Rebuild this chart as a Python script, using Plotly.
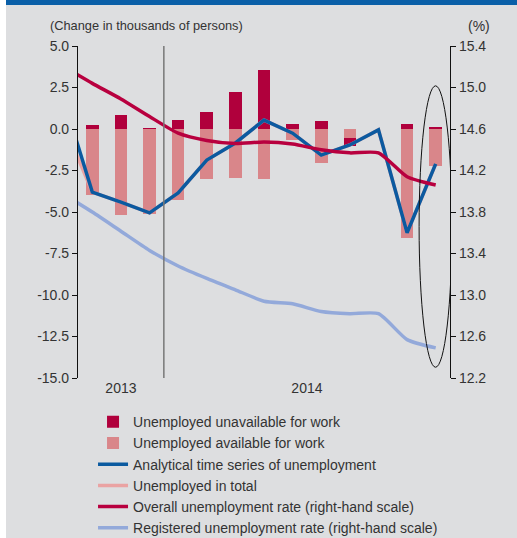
import numpy as np
import plotly.graph_objects as go

# ---------------- data ----------------
months = ["2013-09", "2013-10", "2013-11", "2013-12",
          "2014-01", "2014-02", "2014-03", "2014-04", "2014-05", "2014-06",
          "2014-07", "2014-08", "2014-09", "2014-10"]
unavailable = [None, 0.25, 0.85, 0.05, 0.55, 1.0, 2.2, 3.55, 0.3, 0.48, -0.46, 0.0, 0.3, 0.1]
available = [None, -4.0, -5.2, -5.1, -4.25, -3.0, -2.95, -3.0, -0.66, -2.03, -0.56, 0.0, -6.55, -2.25]
analytical = [1.8, -3.8, -4.4, -5.05, -3.85, -1.87, -0.84, 0.54, -0.25, -1.57, -0.96, -0.05, -6.25, -2.1]
total = [0.3, -3.8, -4.4, -5.05, -3.85, -1.87, -0.84, 0.54, -0.25, -1.57, -0.96, -0.05, -6.25, -2.1]
overall_rate = [15.2, 15.04, 14.89, 14.72, 14.56, 14.49, 14.46, 14.475, 14.455, 14.40, 14.37, 14.37, 14.14, 14.06]
registered_rate = [13.97, 13.80, 13.615, 13.43, 13.28, 13.16, 13.05, 12.94, 12.915, 12.84, 12.82, 12.82, 12.57, 12.49]

left_ticks = [5.0, 2.5, 0.0, -2.5, -5.0, -7.5, -10.0, -12.5, -15.0]
right_ticks = [15.4, 15.0, 14.6, 14.2, 13.8, 13.4, 13.0, 12.6, 12.2]

# ---------------- styling ----------------
FONT = "Liberation Sans, Arial, sans-serif"
TXT = "#333333"
BG = "#dddee0"
C_UNAV = "#b0003c"
C_AV = "#d9868a"
C_ANA = "#0b5aa0"
C_TOT = "#eaa3a3"
C_OVR = "#b8003f"
C_REG = "#93a9da"

x = np.arange(len(months))
first_shown = 1  # Sep 2013 only anchors the clipped line segments
xr = [first_shown - 0.5, len(months) - 0.5]

fig = go.Figure()
fig.add_bar(x=x, y=available, name="Unemployed available for work",
            marker=dict(color=C_AV, line=dict(width=0)), width=0.44, legendrank=2)
fig.add_bar(x=x, y=unavailable, name="Unemployed unavailable for work",
            marker=dict(color=C_UNAV, line=dict(width=0)), width=0.44, legendrank=1)
fig.add_scatter(x=x, y=total, mode="lines", name="Unemployed in total",
                line=dict(color=C_TOT, width=3.5), legendrank=4)
fig.add_scatter(x=x, y=analytical, mode="lines", name="Analytical time series of unemployment",
                line=dict(color=C_ANA, width=3.5), legendrank=3)
fig.add_scatter(x=x, y=registered_rate, mode="lines", yaxis="y2",
                name="Registered unemployment rate (right-hand scale)",
                line=dict(color=C_REG, width=3.5, shape="spline", smoothing=0.6), legendrank=6)
fig.add_scatter(x=x, y=overall_rate, mode="lines", yaxis="y2",
                name="Overall unemployment rate (right-hand scale)",
                line=dict(color=C_OVR, width=3.5, shape="spline", smoothing=0.6), legendrank=5)

# year label positions: centre of each year's shown months
years = sorted(set(m[:4] for m in months[first_shown:]))
year_pos = [float(np.mean([i for i, m in enumerate(months) if m.startswith(y) and i >= first_shown])) for y in years]
boundary = [i - 0.5 for i in range(first_shown + 1, len(months)) if months[i][:4] != months[i - 1][:4]]

fig.update_layout(
    width=517, height=538,
    margin=dict(l=78, r=67, t=46, b=160, autoexpand=False),
    paper_bgcolor=BG, plot_bgcolor=BG,
    font=dict(family=FONT, size=14, color=TXT),
    barmode="relative",
    bargap=0,
    showlegend=True,
    legend=dict(x=0.0404, y=-0.085, xanchor="left", yanchor="top",
                bgcolor="rgba(0,0,0,0)", font=dict(size=14, color=TXT),
                tracegroupgap=0, itemwidth=30, traceorder="normal"),
    xaxis=dict(range=xr, tickvals=year_pos, ticktext=years, ticks="",
               showline=False, showgrid=False, zeroline=False,
               tickfont=dict(size=14, color=TXT)),
    xaxis2=dict(overlaying="x", anchor="free", position=0.75, range=xr,
                tickvals=[i - 0.5 for i in range(first_shown + 1, len(months))],
                ticks="outside", ticklen=5, tickcolor="#555555", tickwidth=1.5,
                showticklabels=False, showline=True, linecolor="#555555", linewidth=1.5,
                showgrid=False, zeroline=False),
    yaxis=dict(range=[-15, 5], tickvals=left_ticks, ticktext=[f"{v:.1f}" for v in left_ticks],
               ticks="outside", ticklen=5, tickcolor="#111111", showline=True, linecolor="#111111",
               linewidth=1.2, showgrid=False, zeroline=False, tickfont=dict(size=14, color=TXT)),
    yaxis2=dict(range=[12.2, 15.4], tickvals=right_ticks, ticktext=[f"{v:.1f}" for v in right_ticks],
                overlaying="y", side="right", anchor="x",
                ticks="outside", ticklen=5, tickcolor="#111111", showline=True, linecolor="#111111",
                linewidth=1.2, showgrid=False, zeroline=False, tickfont=dict(size=14, color=TXT)),
)

shapes = []
for b in boundary:
    shapes.append(dict(type="line", xref="x", yref="paper", x0=b, x1=b, y0=0, y1=1,
                       line=dict(color="#777777", width=1.5), layer="above"))
# highlight ellipse around the latest month
shapes.append(dict(type="circle", xref="x", yref="y", x0=len(months) - 1.58, x1=len(months) - 0.43,
                   y0=-14.35, y1=2.6, line=dict(color="#111111", width=1), layer="above"))
# frame decorations: white strip at left, blue band at top
shapes.append(dict(type="rect", xref="paper", yref="paper", x0=-78 / 372, x1=-72 / 372,
                   y0=-160 / 332, y1=378 / 332, fillcolor="white", line=dict(width=0), layer="below"))
shapes.append(dict(type="rect", xref="paper", yref="paper", x0=-72 / 372, x1=439 / 372,
                   y0=373 / 332, y1=379 / 332, fillcolor="#0a5fa8", line=dict(width=0), layer="below"))
fig.update_layout(shapes=shapes)

fig.add_annotation(text="(Change in thousands of persons)", xref="paper", yref="paper",
                   x=(146 - 78) / 372, y=(378 - 26) / 332, showarrow=False,
                   font=dict(size=12.8, color=TXT), xanchor="center", yanchor="middle")
fig.add_annotation(text="(%)", xref="paper", yref="paper",
                   x=(479 - 78) / 372, y=(378 - 26) / 332, showarrow=False,
                   font=dict(size=14, color=TXT), xanchor="center", yanchor="middle")

fig.write_html("out.html", config={"displayModeBar": False},
               post_script="document.body.style.margin='0';document.body.style.overflow='hidden';")
